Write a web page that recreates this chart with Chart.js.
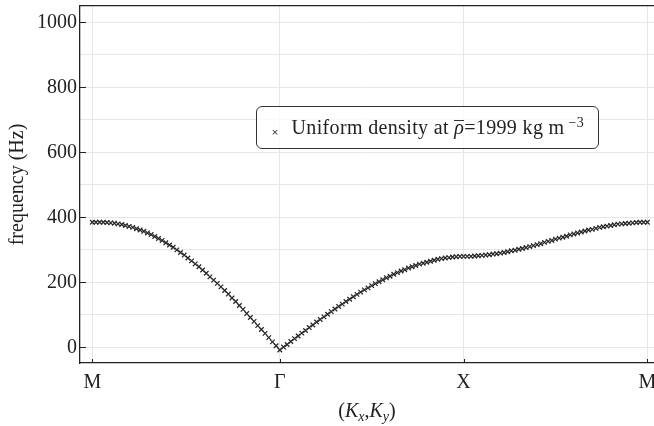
<!DOCTYPE html>
<html>
<head>
<meta charset="utf-8">
<script src="https://cdn.jsdelivr.net/npm/chart.js@4"></script>
<style>
html,body{margin:0;padding:0;background:#fff;}
#wrap{position:relative;width:654px;height:426px;font-family:'Liberation Serif',serif;color:#222;overflow:hidden;}
canvas{display:block;}
#legend{position:absolute;left:256px;top:106px;width:343px;height:43px;box-sizing:border-box;border:1.2px solid #333;border-radius:6px;background:rgba(255,255,255,0.8);}
#legMark{position:absolute;left:13px;top:19.5px;width:10px;text-align:center;font-family:'DejaVu Sans',sans-serif;font-size:9px;line-height:10px;color:#222;}
#legText{position:absolute;left:34.5px;top:10.3px;white-space:nowrap;font-size:20px;line-height:20px;letter-spacing:0.35px;}
.ov{display:inline-block;font-style:italic;border-top:1px solid #333;line-height:13px;padding-top:0;}
.sup{font-size:14px;line-height:0;vertical-align:7px;margin-left:4px;}
#xTitle{position:absolute;left:80px;width:574px;top:400px;text-align:center;font-size:20px;line-height:20px;white-space:nowrap;}
#xTitle sub{font-size:14px;line-height:0;vertical-align:-4px;font-style:italic;}
</style>
</head>
<body>
<div id="wrap">
<canvas id="c" width="654" height="426"></canvas>
<div id="legend"><span id="legMark">×</span><span id="legText">Uniform density at <span class="ov">ρ</span>=1999 kg m<span class="sup">−3</span></span></div>
<div id="xTitle">(<i>K</i><sub>x</sub>,<i>K</i><sub>y</sub>)</div>
</div>
<script>
// Path labels and their positions (point index) along the wave-vector path
const kLabels = ['M', 'Γ', 'X', 'M'];
const kPositions = [0, 51, 101, 151];

// Y tick labels and grid values
const yTickValues = [0, 200, 400, 600, 800, 1000];
const yGridValues = [0, 100, 200, 300, 400, 500, 600, 700, 800, 900, 1000];

// Frequencies (Hz) read along the path M -> Γ -> X -> M
const freqMG = [
  385, 385, 385, 385, 384, 383, 382, 380, 378, 375,
  372, 369, 365, 361, 357, 352, 347, 341, 335, 329,
  322, 315, 308, 300, 292, 284, 275, 266, 257, 248,
  238, 228, 217, 207, 197, 186, 175, 164, 152, 141,
  129, 117, 104, 92, 80, 67, 55, 43, 30, 17,
  5, -8
];
const freqGX = [
  1, 9, 18, 27, 35, 44, 52, 61, 69, 78,
  86, 94, 102, 110, 118, 126, 133, 141, 148, 156,
  163, 170, 177, 183, 190, 196, 202, 208, 214, 219,
  225, 230, 235, 239, 244, 248, 252, 256, 259, 262,
  265, 268, 271, 273, 275, 276, 278, 279, 280, 280
];
const freqXM = [
  280, 280, 281, 282, 283, 284, 285, 287, 288, 290,
  292, 294, 297, 299, 302, 304, 307, 310, 313, 316,
  319, 323, 326, 329, 333, 336, 339, 342, 346, 349,
  352, 355, 358, 361, 363, 366, 369, 371, 373, 375,
  377, 379, 380, 381, 382, 383, 384, 385, 385, 385
];
const seriesLabel = 'Uniform density at ρ̄=1999 kg m⁻³';

const frequency = freqMG.concat(freqGX, freqXM);
const points = frequency.map((f, i) => ({x: i, y: f}));

Chart.defaults.font.family = "'Liberation Serif', serif";
Chart.defaults.font.size = 20;
Chart.defaults.color = '#222';

const innerTicks = {
  id: 'innerTicks',
  afterDraw(chart) {
    const {ctx, chartArea: a, scales: {x, y}} = chart;
    ctx.save();
    ctx.strokeStyle = '#222';
    ctx.lineWidth = 1;
    yTickValues.forEach(v => {
      const p = Math.round(y.getPixelForValue(v)) + 0.5;
      ctx.beginPath(); ctx.moveTo(a.left, p); ctx.lineTo(a.left + 6, p); ctx.stroke();
    });
    kPositions.forEach(v => {
      const p = Math.round(x.getPixelForValue(v)) + 0.5;
      ctx.beginPath(); ctx.moveTo(p, a.bottom); ctx.lineTo(p, a.bottom - 4); ctx.stroke();
    });
    ctx.restore();
  }
};

new Chart(document.getElementById('c'), {
  type: 'scatter',
  data: {
    datasets: [{
      label: seriesLabel,
      data: points,
      pointStyle: 'crossRot',
      pointRadius: 3.2,
      pointBorderWidth: 1.25,
      borderColor: '#262626',
      backgroundColor: '#262626',
      showLine: false
    }]
  },
  options: {
    responsive: false,
    animation: false,
    devicePixelRatio: 1,
    layout: {padding: 0, autoPadding: false},
    plugins: {legend: {display: false}, tooltip: {enabled: false}},
    scales: {
      x: {
        type: 'linear',
        min: -3.35,
        max: 152.8,
        afterBuildTicks: s => { s.ticks = kPositions.map(v => ({value: v})); },
        afterFit: s => { s.height = 63; s.paddingLeft = 0; s.paddingRight = 0; },
        ticks: {
          autoSkip: false,
          maxRotation: 0,
          padding: 8,
          callback: v => kLabels[kPositions.indexOf(v)]
        },
        grid: {color: '#e6e6e6', lineWidth: 1, drawTicks: false},
        border: {display: true, color: '#222', width: 1.3}
      },
      x2: {
        type: 'linear',
        position: 'top',
        display: true,
        afterFit: s => { s.height = 6; s.paddingLeft = 0; s.paddingRight = 0; },
        ticks: {display: false},
        grid: {display: false, drawTicks: false},
        border: {display: true, color: '#222', width: 1.3}
      },
      y: {
        type: 'linear',
        min: -48,
        max: 1050,
        afterBuildTicks: s => { s.ticks = yGridValues.map(v => ({value: v})); },
        afterFit: s => { s.width = 80; s.paddingTop = 0; s.paddingBottom = 0; },
        ticks: {
          padding: 3,
          callback: v => (yTickValues.includes(v) ? String(v) : '')
        },
        grid: {color: '#e6e6e6', lineWidth: 1, drawTicks: false},
        border: {display: true, color: '#222', width: 1.3},
        title: {display: true, text: 'frequency (Hz)', padding: {top: 6, bottom: 0}, font: {size: 20}}
      }
    }
  },
  plugins: [innerTicks]
});
</script>
</body>
</html>
